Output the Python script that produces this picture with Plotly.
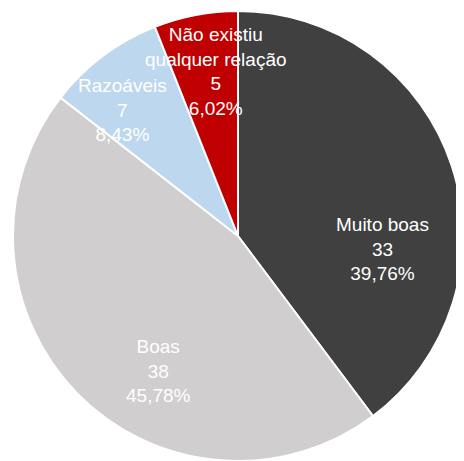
import plotly.graph_objects as go

# relationship quality, clockwise from 12 o'clock
labels = ["Muito boas", "Boas", "Razoáveis", "Não existiu<br>qualquer relação"]
values = [33, 38, 7, 5]
colors = ["#404040", "#d0cece", "#bdd7ee", "#c00000"]

# label centres in figure pixels (x, y from top), placed by hand like the original
label_px = [(374, 241), (150, 363), (114, 102), (208, 64)]

# page body has an 8px margin, so the figure is a bit smaller than the window
W, H = 456, 453
M = dict(l=4, r=0, t=3, b=0)

total = sum(values)


def pct(v):
    return f"{v / total * 100:.2f}%".replace(".", ",")


fig = go.Figure(go.Pie(
    labels=labels,
    values=values,
    sort=False,
    direction="clockwise",
    rotation=0,
    marker=dict(colors=colors, line=dict(color="white", width=2)),
    textinfo="none",
    hoverinfo="label+value+percent",
    showlegend=False,
))

pw = W - M["l"] - M["r"]
ph = H - M["t"] - M["b"]
for lab, v, (px, py) in zip(labels, values, label_px):
    fig.add_annotation(
        x=(px - M["l"]) / pw, y=1 - (py - M["t"]) / ph,
        xref="paper", yref="paper",
        xanchor="center", yanchor="middle",
        text=f"{lab}<br>{v}<br>{pct(v)}",
        showarrow=False, align="center",
        font=dict(family="Liberation Sans, Arial", size=19, color="white"),
    )

fig.update_layout(
    width=W, height=H,
    margin=M,
    paper_bgcolor="white",
    plot_bgcolor="white",
)

fig.write_html("out.html")
